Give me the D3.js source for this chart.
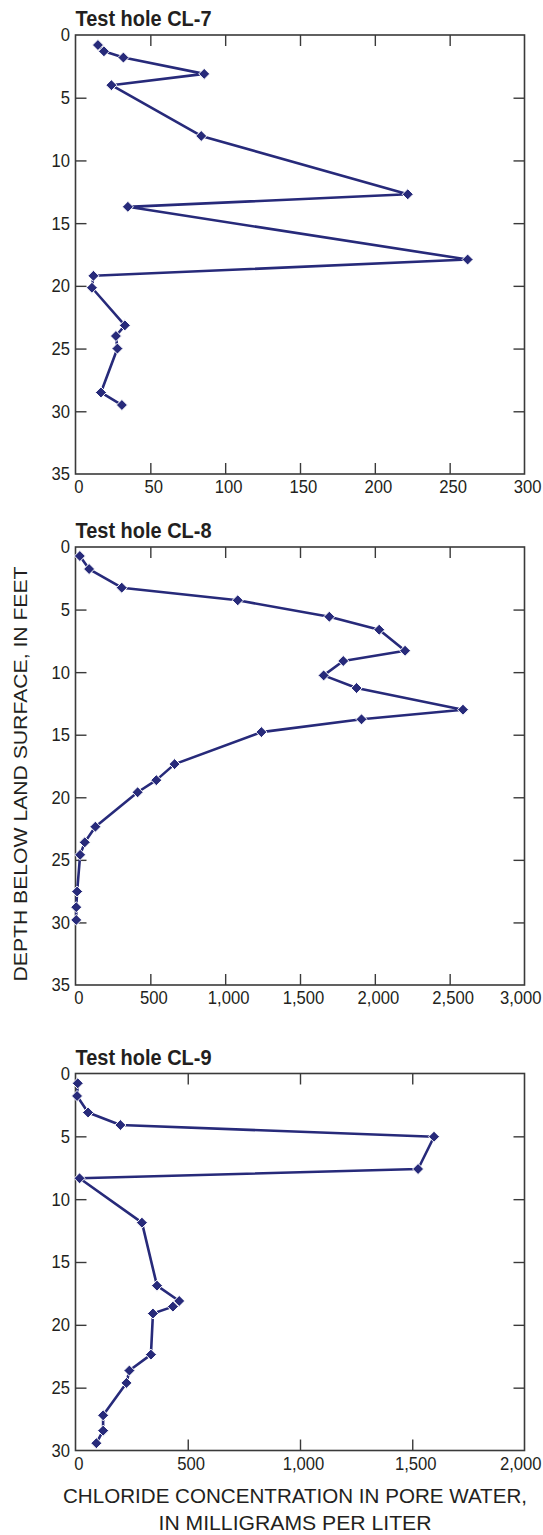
<!DOCTYPE html>
<html>
  <head>
    <meta charset="utf-8">
    <title>Chloride in pore water</title>
    <script src="https://d3js.org/d3.v7.min.js"></script>
    <style>
      body { margin: 0; background: #fff; }
      svg { display: block; }
      .tick text { font-family: "Liberation Sans", Arial, sans-serif; font-size: 18.5px; fill: #231f20; }
      .tick line { stroke: #3a3a3a; stroke-width: 1.4; }
      .frame { fill: none; stroke: #3a3a3a; stroke-width: 1.6; }
      .title { font-family: "Liberation Sans", Arial, sans-serif; font-weight: bold; font-size: 22px; fill: #231f20; }
      .axlabel { font-family: "Liberation Sans", Arial, sans-serif; font-size: 18.5px; fill: #231f20; }
      .xlabel { font-size: 21px; }
      .line { fill: none; stroke: #272a7a; stroke-width: 2.6; stroke-linejoin: round; }
      .pt { fill: #272a7a; stroke: #fff; stroke-width: 1; }
    </style>
  </head>
  <body>
    <svg width="543" height="1535"></svg>
  <script>
    // test hole CL-7
    var cl7Conc  = [15, 19, 32, 86, 24, 84, 222, 35, 262, 12, 11, 33, 27, 28, 17, 31];
    var cl7Depth = [0.8, 1.3, 1.8, 3.1, 4.0, 8.05, 12.7, 13.7, 17.9, 19.2, 20.15, 23.15, 24.0, 25.0, 28.5, 29.5];
    var cl7XTicks = [0, 50, 100, 150, 200, 250, 300];

    // test hole CL-8
    var cl8Conc  = [29, 91, 309, 1084, 1696, 2029, 2202, 1789, 1658, 1878, 2589, 1911, 1242, 662, 540, 415, 133, 62, 31, 11, 5, 5];
    var cl8Depth = [0.72, 1.76, 3.25, 4.26, 5.57, 6.61, 8.29, 9.11, 10.26, 11.27, 13.0, 13.77, 14.79, 17.35, 18.63, 19.6, 22.35, 23.6, 24.6, 27.53, 28.78, 29.8];
    var cl8XTicks = [0, 500, 1000, 1500, 2000, 2500, 3000];

    // test hole CL-9
    var cl9Conc  = [10, 7, 56, 200, 1597, 1526, 18, 296, 363, 462, 434, 345, 336, 240, 227, 123, 123, 93];
    var cl9Depth = [0.78, 1.79, 3.1, 4.1, 5.03, 7.6, 8.34, 11.87, 16.88, 18.1, 18.55, 19.1, 22.37, 23.64, 24.62, 27.2, 28.42, 29.42];
    var cl9XTicks = [0, 500, 1000, 1500, 2000];

    var depthTicks35 = [0, 5, 10, 15, 20, 25, 30, 35];
    var depthTicks30 = [0, 5, 10, 15, 20, 25, 30];

    var svg = d3.select("svg");
    var left = 75.5, right = 524.5, tickLen = 11, squeeze = "scale(0.9,1)";

    var panels = [
      {title: "Test hole CL-7", conc: cl7Conc, depth: cl7Depth, xTicks: cl7XTicks, yTicks: depthTicks35, top: 35, bottom: 474},
      {title: "Test hole CL-8", conc: cl8Conc, depth: cl8Depth, xTicks: cl8XTicks, yTicks: depthTicks35, top: 547, bottom: 985},
      {title: "Test hole CL-9", conc: cl9Conc, depth: cl9Depth, xTicks: cl9XTicks, yTicks: depthTicks30, top: 1073.5, bottom: 1450.5}
    ];

    panels.forEach(function(p) {
      var x = d3.scaleLinear()
                .domain([0, d3.max(p.xTicks)])
                .range([left, right]);
      var y = d3.scaleLinear()
                .domain([0, d3.max(p.yTicks)])
                .range([p.top, p.bottom]);
      var inner = function(t) { return t.slice(1, -1); };

      svg.append("text")
         .attr("class", "title")
         .attr("x", left)
         .attr("y", p.top - 9)
         .attr("textLength", 136)
         .attr("lengthAdjust", "spacingAndGlyphs")
         .text(p.title);

      // left axis with labels, ticks pointing in
      var ly = svg.append("g")
         .attr("transform", "translate(" + left + ",0)")
         .call(d3.axisLeft(y).tickValues(p.yTicks).tickSize(-tickLen).tickSizeOuter(0).tickPadding(6))
         .call(function(g) { g.select(".domain").remove(); })
         .call(function(g) { g.selectAll(".tick line").filter(function(d, i) { return i == 0 || i == p.yTicks.length - 1; }).remove(); });
      ly.selectAll(".tick text").attr("transform", squeeze);

      // right axis, ticks only
      svg.append("g")
         .attr("transform", "translate(" + right + ",0)")
         .call(d3.axisRight(y).tickValues(inner(p.yTicks)).tickSize(-tickLen).tickSizeOuter(0).tickFormat(""))
         .call(function(g) { g.select(".domain").remove(); });

      // top axis, ticks only
      svg.append("g")
         .attr("transform", "translate(0," + p.top + ")")
         .call(d3.axisTop(x).tickValues(inner(p.xTicks)).tickSize(-tickLen).tickSizeOuter(0).tickFormat(""))
         .call(function(g) { g.select(".domain").remove(); });

      // bottom axis with labels
      var bx = svg.append("g")
         .attr("transform", "translate(0," + p.bottom + ")")
         .call(d3.axisBottom(x).tickValues(p.xTicks).tickSize(-tickLen).tickSizeOuter(0).tickPadding(6).tickFormat(d3.format(",")))
         .call(function(g) { g.select(".domain").remove(); })
         .call(function(g) { g.selectAll(".tick line").filter(function(d, i) { return i == 0 || i == p.xTicks.length - 1; }).remove(); });
      bx.selectAll(".tick text")
        .attr("transform", squeeze)
        .attr("dx", function(d, i) {
          var w = this.getComputedTextLength() * 0.9;
          var shift = 3;
          // keep the last label inside the picture
          if (x(d) + shift + w / 2 > 541) shift = 541 - w / 2 - x(d);
          return shift / 0.9;
        });

      svg.append("rect")
         .attr("class", "frame")
         .attr("x", left)
         .attr("y", p.top)
         .attr("width", right - left)
         .attr("height", p.bottom - p.top);

      var pts = p.conc.map(function(c, i) { return [c, p.depth[i]]; });

      svg.append("path")
         .datum(pts)
         .attr("class", "line")
         .attr("d", d3.line()
                      .x(function(d) { return x(d[0]); })
                      .y(function(d) { return y(d[1]); }));

      svg.selectAll(null)
         .data(pts)
         .enter().append("path")
         .attr("class", "pt")
         .attr("transform", function(d) { return "translate(" + x(d[0]) + "," + y(d[1]) + ")"; })
         .attr("d", "M0,-5.5L5.5,0L0,5.5L-5.5,0Z");
    });

    // axis titles
    svg.append("text")
       .attr("class", "axlabel")
       .attr("transform", "translate(27,774) rotate(-90)")
       .attr("text-anchor", "middle")
       .attr("textLength", 415)
       .attr("lengthAdjust", "spacingAndGlyphs")
       .text("DEPTH BELOW LAND SURFACE, IN FEET");

    svg.append("text")
       .attr("class", "axlabel xlabel")
       .attr("x", 295)
       .attr("y", 1503)
       .attr("text-anchor", "middle")
       .attr("textLength", 464)
       .attr("lengthAdjust", "spacingAndGlyphs")
       .text("CHLORIDE CONCENTRATION IN PORE WATER,");

    svg.append("text")
       .attr("class", "axlabel xlabel")
       .attr("x", 295)
       .attr("y", 1530)
       .attr("text-anchor", "middle")
       .attr("textLength", 273)
       .attr("lengthAdjust", "spacingAndGlyphs")
       .text("IN MILLIGRAMS PER LITER");
  </script>
  </body>
</html>
